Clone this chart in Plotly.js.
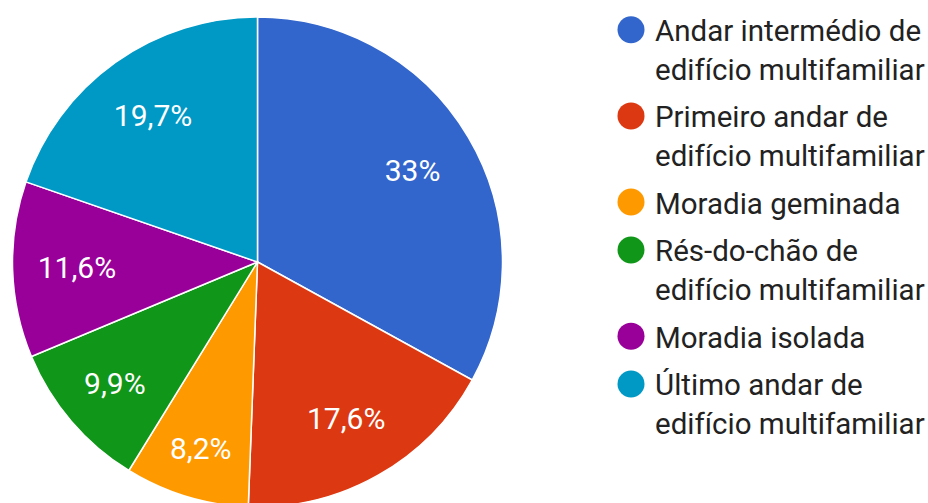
<!DOCTYPE html>
<html><head><meta charset="utf-8">
<script src="https://cdn.plot.ly/plotly-3.0.1.min.js"></script>
<style>
html,body{margin:0;padding:0;overflow:hidden;background:#fff;width:928px;height:503px}
#chart{width:928px;height:524px}
</style>
</head><body><div id="chart"></div>
<script>
const labels = [
  "Andar intermédio de<br>edifício multifamiliar",
  "Primeiro andar de<br>edifício multifamiliar",
  "Moradia geminada",
  "Rés-do-chão de<br>edifício multifamiliar",
  "Moradia isolada",
  "Último andar de<br>edifício multifamiliar"
];
const values = [33, 17.6, 8.2, 9.9, 11.6, 19.7];
const colors = ["#3366CC", "#DC3912", "#FF9900", "#109618", "#990099", "#0099C6"];

const FONT = "Roboto, Arial, sans-serif";
// plot area: y 0..507 px, pie occupies 17..507
const pieDomain = {x: [12/928, 503/928], y: [0, 490/507]};

const data = [];
// legend entries (one tiny pie per category, hidden under the main pie)
labels.forEach((lab, i) => {
  data.push({
    type: "pie", labels: [lab], values: [values[i]],
    marker: {colors: [colors[i]], line: {width: 0}},
    domain: {x: [0.27, 0.2705], y: [0.5, 0.5005]},
    textinfo: "none", hoverinfo: "skip", sort: false,
    legendgroup: "g" + i, showlegend: true
  });
});
// main pie
data.push({
  type: "pie", labels: labels, values: values,
  marker: {colors: colors, line: {color: "#ffffff", width: 1.5}},
  domain: pieDomain, sort: false, direction: "clockwise", rotation: 0,
  textinfo: "none", showlegend: false, hoverinfo: "label+percent"
});
// label layer (same data, ring-shaped so the labels sit at ~3/4 radius)
data.push({
  type: "pie", labels: labels, values: values, hole: 0.47,
  marker: {colors: labels.map(() => "rgba(0,0,0,0)"), line: {width: 0}},
  domain: pieDomain, sort: false, direction: "clockwise", rotation: 0,
  textinfo: "percent", textposition: "inside", insidetextorientation: "horizontal",
  insidetextfont: {family: FONT, size: 30, color: "#ffffff"},
  showlegend: false, hoverinfo: "skip"
});

const layout = {
  width: 928, height: 524,
  margin: {l: 0, r: 0, t: 0, b: 17, autoexpand: false},
  paper_bgcolor: "#ffffff",
  separators: ",.",
  showlegend: true,
  legend: {
    x: 607/928, xanchor: "left", y: 1 - 4/507, yanchor: "top",
    font: {family: FONT, size: 29.5, color: "#222222"},
    itemwidth: 38, valign: "top", tracegroupgap: 6.5,
    bgcolor: "rgba(0,0,0,0)", borderwidth: 0, itemclick: false, itemdoubleclick: false
  },
  font: {family: FONT}
};

const gd = document.getElementById("chart");
function circles() {
  gd.querySelectorAll("path.legendpie").forEach(p => {
    p.setAttribute("d", "M13.5,0A13.5,13.5 0 1,1 0,-13.5A13.5,13.5 0 0,1 13.5,0Z");
  });
}
Plotly.newPlot(gd, data, layout, {displayModeBar: false, staticPlot: true}).then(() => {
  circles();
  gd.on && gd.on("plotly_afterplot", circles);
});
</script>
</body></html>
